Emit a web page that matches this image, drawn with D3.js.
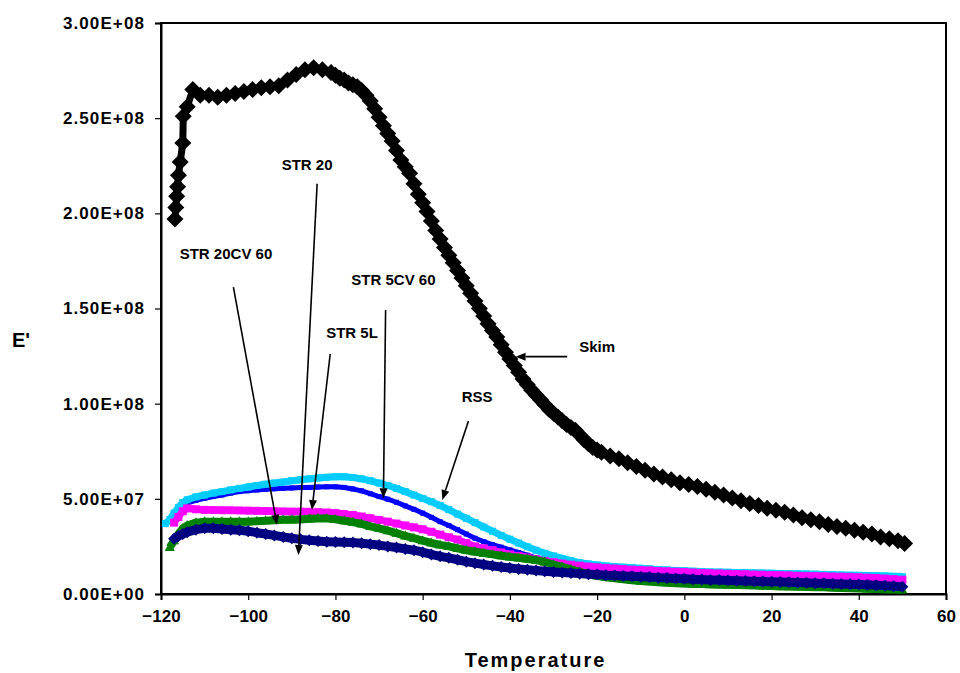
<!DOCTYPE html>
<html><head><meta charset="utf-8">
<script src="https://cdn.jsdelivr.net/npm/d3@7"></script>
<style>
body{margin:0;background:#fff}
svg{display:block}
text{font-family:"Liberation Sans",Arial,sans-serif;font-weight:bold;fill:#000}
</style>
</head><body>
<svg id="chart" width="960" height="673"></svg>
<script>
// ---------- DATA ----------
const xTicks = [-120,-100,-80,-60,-40,-20,0,20,40,60];
const yTicks = [0,5e7,1e8,1.5e8,2e8,2.5e8,3e8];
const yTickLabels = ["0.00E+00","5.00E+07","1.00E+08","1.50E+08","2.00E+08","2.50E+08","3.00E+08"];

// Skim (values x 1e8)
const skimT = [-116.8,-116.6,-116.4,-116.2,-116.0,-115.6,-115.0,-114.9,-114.0,-112.7,-111,-109,-107,-105,-103,-101,-99,-97,-95,-93,-91,-89,-87,-85,-83,-81,
  -80,-79,-78,-77,-76,-75,-74,-73,-72,-71,-70,-69,-68,-67,-66,-65,-64,-63,-62,-61,-60,-59,-58,-57,-56,-55,-54,-53,-52,-51,-50,-49,-48,-47,-46,-45,-44,-43,-42,-41,-40,-39,-38,-37,-36,-35,-34,-33,-32,-31,-30,-29,-28,-27,-26,-25,-24,-23,-22,-21,-20,
  -19,-17,-15,-13,-11,-9,-7,-5,-3,-1,1,3,5,7,9,11,13,15,17,19,21,23,25,27,29,31,33,35,37,39,41,43,45,47,49,50.5];
const skimE8 = [1.97,2.03,2.09,2.14,2.20,2.27,2.37,2.51,2.56,2.65,2.62,2.62,2.61,2.62,2.63,2.64,2.65,2.66,2.665,2.67,2.70,2.73,2.755,2.765,2.755,2.74,
  2.725,2.71,2.70,2.685,2.675,2.665,2.645,2.62,2.59,2.55,2.505,2.46,2.42,2.38,2.33,2.28,2.245,2.21,2.155,2.10,2.055,2.01,1.96,1.91,1.865,1.82,1.78,1.74,1.70,1.66,1.62,1.58,1.54,1.50,1.46,1.42,1.385,1.35,1.31,1.27,1.235,1.20,1.165,1.13,1.10,1.07,1.045,1.02,0.995,0.97,0.95,0.93,0.91,0.89,0.875,0.86,0.835,0.81,0.79,0.77,0.757,
  0.745,0.725,0.71,0.69,0.67,0.65,0.63,0.615,0.60,0.585,0.575,0.565,0.55,0.535,0.52,0.505,0.49,0.475,0.465,0.45,0.44,0.43,0.415,0.40,0.39,0.38,0.365,0.355,0.345,0.335,0.325,0.315,0.30,0.29,0.28,0.265];

// Temperature grid for the other samples
const temps = [-119,-118,-117,-116,-115,-114,-112,-110,-108,-106,-104,-102,-100,-98,-96,-94,-92,-90,-88,-86,-84,-82,-80,-78,-76,-74,-72,-70,-68,-66,-64,-62,-60,-58,-56,-54,-52,-50,-48,-46,-44,-42,-40,-38,-36,-34,-32,-30,-28,-26,-24,-22,-20,-18,-16,-14,-12,-10,-8,-6,-4,-2,0,2,4,6,8,10,12,14,16,18,20,22,24,26,28,30,32,34,36,38,40,42,44,46,48,50];

// values x 1e7
const rssE7 = [3.7,3.9,4.25,4.55,4.8,4.95,5.1,5.2,5.3,5.38,5.47,5.55,5.62,5.7,5.77,5.83,5.88,5.95,6.0,6.05,6.1,6.13,6.16,6.16,6.12,6.05,5.95,5.83,5.7,5.55,5.38,5.2,5.02,4.85,4.65,4.43,4.2,3.98,3.75,3.52,3.3,3.08,2.88,2.68,2.48,2.3,2.14,2.0,1.87,1.75,1.65,1.58,1.52,1.47,1.44,1.41,1.38,1.35,1.32,1.29,1.26,1.24,1.22,1.2,1.18,1.16,1.15,1.14,1.13,1.12,1.11,1.1,1.09,1.08,1.07,1.06,1.05,1.04,1.03,1.01,1.0,0.99,0.98,0.97,0.96,0.95,0.93,0.91];
const str5cv60E7 = [3.75,3.95,4.2,4.45,4.65,4.78,4.92,5.03,5.12,5.2,5.3,5.38,5.43,5.47,5.5,5.53,5.55,5.57,5.59,5.6,5.62,5.63,5.63,5.6,5.52,5.42,5.27,5.12,4.98,4.82,4.63,4.45,4.25,4.03,3.8,3.6,3.38,3.15,2.93,2.75,2.6,2.46,2.32,2.18,2.04,1.9,1.8,1.72,1.63,1.55,1.47,1.4,1.34,1.28,1.23,1.18,1.14,1.1,1.06,1.03,1.0,0.98,0.95,0.93,0.91,0.89,0.87,0.86,0.84,0.83,0.82,0.8,0.79,0.78,0.77,0.76,0.75,0.74,0.73,0.72,0.71,0.7,0.69,0.68,0.67,0.66,0.65,0.64];
const str5lE7 = [null,null,3.75,4.05,4.35,4.5,4.45,4.42,4.41,4.4,4.4,4.39,4.38,4.37,4.36,4.35,4.34,4.33,4.33,4.32,4.3,4.28,4.25,4.2,4.15,4.07,3.98,3.89,3.8,3.7,3.6,3.5,3.4,3.27,3.12,2.98,2.86,2.68,2.5,2.4,2.3,2.18,2.08,2.0,1.92,1.83,1.74,1.67,1.6,1.54,1.49,1.44,1.4,1.37,1.34,1.31,1.28,1.26,1.24,1.21,1.19,1.17,1.15,1.13,1.11,1.09,1.08,1.06,1.05,1.04,1.02,1.01,1.0,0.99,0.98,0.96,0.95,0.94,0.93,0.92,0.91,0.9,0.88,0.86,0.84,0.81,0.78,0.75];
const str20cv60E7 = [null,2.45,2.8,3.15,3.45,3.6,3.75,3.8,3.8,3.8,3.8,3.8,3.8,3.82,3.85,3.88,3.9,3.9,3.92,3.95,3.97,3.97,3.92,3.85,3.78,3.68,3.55,3.45,3.33,3.2,3.05,2.93,2.8,2.68,2.58,2.5,2.4,2.3,2.22,2.15,2.08,2.01,1.95,1.9,1.84,1.78,1.68,1.55,1.42,1.3,1.17,1.05,0.95,0.88,0.82,0.77,0.72,0.68,0.65,0.62,0.59,0.56,0.55,0.53,0.52,0.5,0.49,0.48,0.47,0.46,0.45,0.43,0.42,0.4,0.39,0.38,0.37,0.36,0.35,0.33,0.32,0.3,0.29,0.27,0.26,0.24,0.23,0.22];
const str20E7 = [null,null,2.9,3.05,3.15,3.25,3.38,3.45,3.45,3.42,3.38,3.35,3.3,3.22,3.15,3.08,3.0,2.93,2.87,2.82,2.78,2.75,2.73,2.72,2.7,2.67,2.62,2.57,2.5,2.44,2.37,2.3,2.2,2.08,1.98,1.9,1.8,1.7,1.62,1.55,1.48,1.42,1.37,1.32,1.28,1.24,1.2,1.16,1.13,1.1,1.07,1.04,1.02,0.99,0.97,0.95,0.93,0.91,0.89,0.86,0.84,0.82,0.8,0.78,0.76,0.74,0.73,0.71,0.7,0.68,0.67,0.66,0.65,0.63,0.62,0.6,0.59,0.57,0.56,0.54,0.53,0.51,0.5,0.48,0.46,0.44,0.41,0.38];

// annotation labels: text, text anchor point (T, E), arrow from (T,E) to (T,E)
const annoText = ["STR 20","STR 20CV 60","STR 5L","STR 5CV 60","RSS","Skim"];
const annoAt   = [[-86.5,2.254e8],[-105.1,1.787e8],[-76.2,1.373e8],[-66.7,1.65e8],[-47.5,1.037e8],[-20.0,1.30e8]];
const annoFrom = [[-84.2,2.155e8],[-103.4,1.612e8],[-81.2,1.261e8],[-68.5,1.492e8],[-49.5,0.909e8],[-26.85,1.247e8]];
const annoTo   = [[-88.5,0.205e8],[-93.4,0.363e8],[-85.4,0.441e8],[-69.0,0.503e8],[-55.5,0.494e8],[-38.7,1.247e8]];

// ---------- CHART ----------
const svg = d3.select("#chart");
const L = 161, R = 946, T = 23, B = 594;
const x = d3.scaleLinear().domain([-120,60]).range([L,R]);
const y = d3.scaleLinear().domain([0,3e8]).range([B,T]);

// frame
svg.append("rect").attr("x",L).attr("y",T).attr("width",R-L).attr("height",B-T)
  .attr("fill","none").attr("stroke","#000").attr("stroke-width",2);

// axes
const xAxis = d3.axisBottom(x).tickValues(xTicks).tickSize(6).tickPadding(10);
const gx = svg.append("g").attr("transform",`translate(0,${B})`).call(xAxis);
gx.select(".domain").attr("stroke-width",2);
gx.selectAll(".tick line").attr("stroke-width",1.2);
gx.selectAll(".tick text").attr("font-size",17).attr("font-weight","bold")
  .attr("font-family","Liberation Sans, Arial, sans-serif").attr("fill","#000");

const yAxis = d3.axisLeft(y).tickValues(yTicks).tickSize(6).tickPadding(10)
  .tickFormat((d,i)=>yTickLabels[i]);
const gy = svg.append("g").attr("transform",`translate(${L},0)`).call(yAxis);
gy.select(".domain").attr("stroke-width",2);
gy.selectAll(".tick line").attr("stroke-width",1.2);
gy.selectAll(".tick text").attr("font-size",17).attr("font-weight","bold")
  .attr("letter-spacing","1.1px")
  .attr("font-family","Liberation Sans, Arial, sans-serif").attr("fill","#000");

// axis titles
svg.append("text").attr("x",(L+R)/2 - 18).attr("y",667).attr("text-anchor","middle")
  .attr("font-size",20).attr("letter-spacing","2px").text("Temperature");
svg.append("text").attr("x",12).attr("y",347).attr("font-size",20).text("E'");

const plot = svg.append("g");

function diamondPath(r){ return `M0,${-r}L${r},0L0,${r}L${-r},0Z`; }
function squarePath(s){ const h=s/2; return `M${-h},${-h}H${h}V${h}H${-h}Z`; }
function triPath(w,h){ return `M0,${-h*0.6}L${w/2},${h*0.4}L${-w/2},${h*0.4}Z`; }

function series(vals, unit, color, lineW, shape){
  const pts = temps.map((t,i)=>[t, vals[i]==null?null:vals[i]*unit]).filter(d=>d[1]!=null);
  const g = plot.append("g");
  g.append("path").datum(pts)
    .attr("d", d3.line().x(d=>x(d[0])).y(d=>y(d[1])))
    .attr("fill","none").attr("stroke",color).attr("stroke-width",lineW)
    .attr("stroke-linejoin","round");
  g.selectAll("path.m").data(pts).join("path").attr("class","m")
    .attr("transform",d=>`translate(${x(d[0])},${y(d[1])})`)
    .attr("d",shape).attr("fill",color);
}

// Skim
const skimPts = skimT.map((t,i)=>[t, skimE8[i]*1e8]);
plot.append("path").datum(skimPts)
  .attr("d", d3.line().x(d=>x(d[0])).y(d=>y(d[1])))
  .attr("fill","none").attr("stroke","#000").attr("stroke-width",7)
  .attr("stroke-linejoin","round");
plot.selectAll("path.sk").data(skimPts).join("path").attr("class","sk")
  .attr("transform",d=>`translate(${x(d[0])},${y(d[1])})`)
  .attr("d",diamondPath(8.5)).attr("fill","#000");

series(str5cv60E7, 1e7, "#0000FF", 5, squarePath(5));
series(rssE7, 1e7, "#00CCFF", 7, squarePath(7));
series(str5lE7, 1e7, "#FF00FF", 7, squarePath(8));
series(str20cv60E7, 1e7, "#008000", 8, triPath(10,9));
series(str20E7, 1e7, "#000080", 9, diamondPath(6));

// annotations
const ann = svg.append("g");
annoText.forEach((t,i)=>{
  ann.append("text").attr("x",x(annoAt[i][0])).attr("y",y(annoAt[i][1])).attr("dy","0.35em")
    .attr("text-anchor","middle").attr("font-size",15).text(t);
  const x1=x(annoFrom[i][0]), y1=y(annoFrom[i][1]), x2=x(annoTo[i][0]), y2=y(annoTo[i][1]);
  const ang = Math.atan2(y2-y1, x2-x1);
  const hl = 10, hw = 4;
  const bx = x2 - hl*Math.cos(ang), by = y2 - hl*Math.sin(ang);
  ann.append("line").attr("x1",x1).attr("y1",y1).attr("x2",bx).attr("y2",by)
    .attr("stroke","#000").attr("stroke-width",1.6);
  const px = -Math.sin(ang)*hw, py = Math.cos(ang)*hw;
  ann.append("path").attr("d",`M${x2},${y2}L${bx+px},${by+py}L${bx-px},${by-py}Z`).attr("fill","#000");
});
</script>
</body></html>
